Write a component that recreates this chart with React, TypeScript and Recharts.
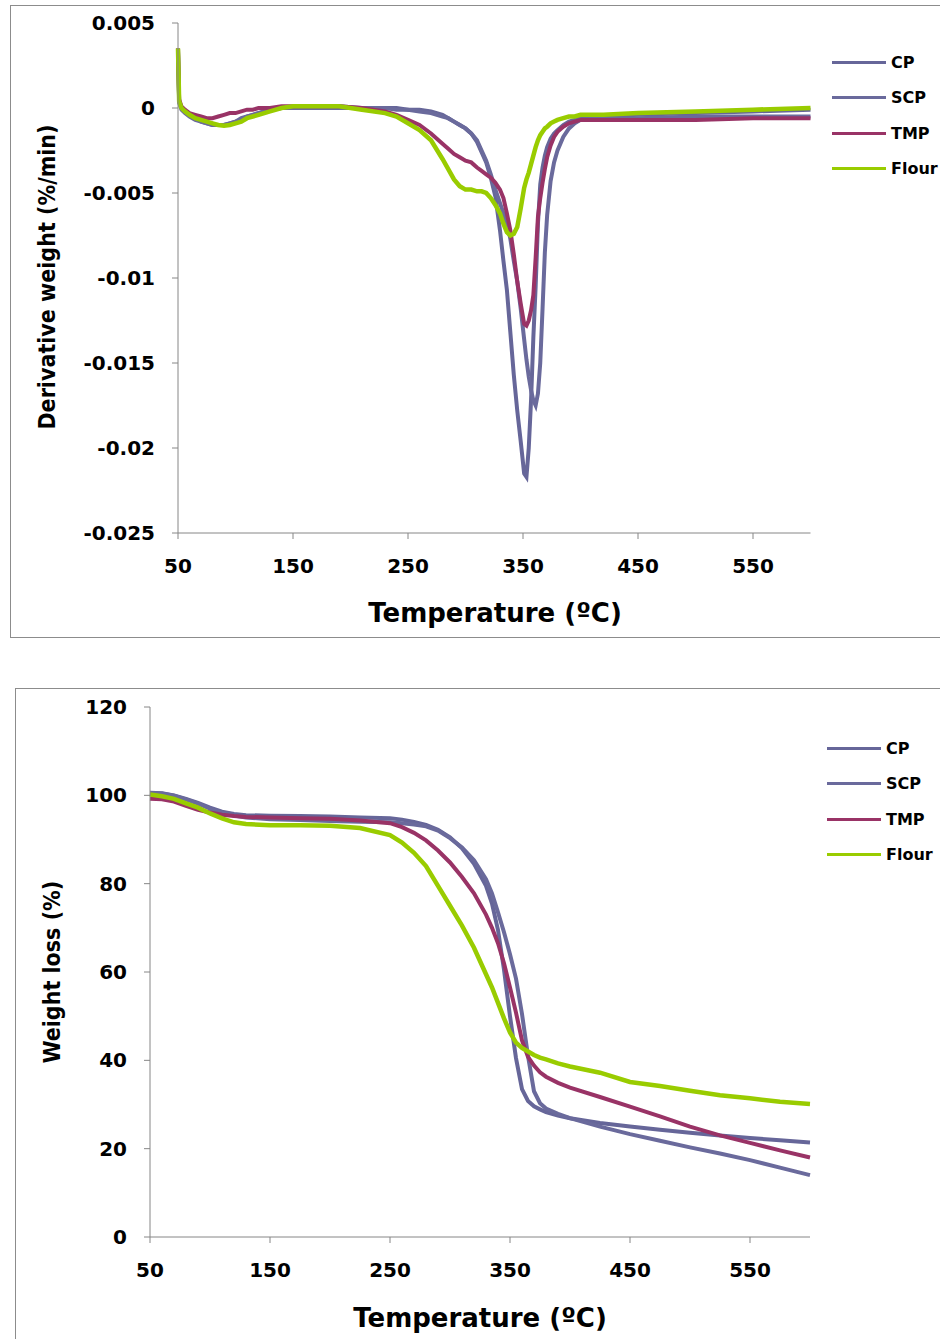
import React from 'react';
import { LineChart, Line, XAxis, YAxis, Legend } from 'recharts';

// derivative (DTG) curves
const DTG_TEMP = [
  50, 51, 53, 56, 60, 65, 70, 75, 80, 85, 90, 95, 100, 105, 110, 115, 120, 125, 130, 140,
  150, 170, 190, 210, 230, 240, 250, 260, 270, 280, 285, 290, 295, 300, 305, 310, 314, 318, 322, 326,
  330, 333, 336, 339, 342, 345, 348, 351, 353, 355, 357, 359, 361, 363, 365, 367, 369, 371, 374, 377,
  380, 385, 390, 395, 400, 420, 450, 500, 550, 600,
];
const DTG_CP = [
  0.0035, 0.0004, 0.0, -0.0002, -0.0004, -0.0006, -0.0008, -0.0009, -0.001, -0.001,
  -0.001, -0.0009, -0.0008, -0.0007, -0.0005, -0.0004, -0.0003, -0.0002, -0.0001, 0.0,
  0.0, 0.0001, 0.0001, 0.0, 0.0, 0.0, -0.0001, -0.0001, -0.0002, -0.0004,
  -0.0006, -0.0008, -0.001, -0.0012, -0.0015, -0.002, -0.0026, -0.0032, -0.0041, -0.0052,
  -0.0072, -0.009, -0.0107, -0.0132, -0.0157, -0.0178, -0.0196, -0.0215, -0.0217, -0.02,
  -0.0172, -0.0135, -0.0105, -0.0068, -0.0045, -0.0035, -0.0028, -0.0023, -0.0018, -0.0015,
  -0.0013, -0.001, -0.0008, -0.0007, -0.0006, -0.0005, -0.0004, -0.0003, -0.0002, -0.0001,
];
const DTG_SCP = [
  0.0033, 0.0003, -0.0001, -0.0003, -0.0005, -0.0007, -0.0008, -0.0009, -0.001, -0.001,
  -0.001, -0.0009, -0.0008, -0.0006, -0.0005, -0.0004, -0.0003, -0.0002, -0.0001, 0.0,
  0.0, 0.0, 0.0, 0.0, 0.0, -0.0001, -0.0001, -0.0002, -0.0003, -0.0005,
  -0.0006, -0.0008, -0.001, -0.0012, -0.0015, -0.0019, -0.0025, -0.0031, -0.0039, -0.0048,
  -0.0056, -0.0062, -0.0068, -0.0077, -0.009, -0.0102, -0.0118, -0.0136, -0.0148, -0.0158,
  -0.0166, -0.0172, -0.0175, -0.0168, -0.015, -0.0118, -0.0085, -0.0063, -0.0043, -0.0032,
  -0.0025, -0.0017, -0.0012, -0.0009, -0.0007, -0.0006, -0.0006, -0.0005, -0.0005, -0.0005,
];
const DTG_TMP = [
  0.0035, 0.0005, 0.0001, -0.0001, -0.0003, -0.0004, -0.0005, -0.0006, -0.0006, -0.0005,
  -0.0004, -0.0003, -0.0003, -0.0002, -0.0001, -0.0001, 0.0, 0.0, 0.0, 0.0001,
  0.0001, 0.0001, 0.0001, 0.0, -0.0002, -0.0004, -0.0007, -0.001, -0.0015, -0.0021,
  -0.0024, -0.0027, -0.0029, -0.0031, -0.0032, -0.0035, -0.0037, -0.0039, -0.0041, -0.0044,
  -0.0048, -0.0053, -0.0062, -0.0072, -0.0086, -0.0102, -0.0115, -0.0127, -0.0128, -0.0125,
  -0.0119, -0.011, -0.0088, -0.0064, -0.0053, -0.0044, -0.0036, -0.0029, -0.0022, -0.0017,
  -0.0014, -0.0011, -0.0009, -0.0008, -0.0007, -0.0007, -0.0007, -0.0007, -0.0006, -0.0006,
];
const DTG_FLOUR = [
  0.0035, 0.0004, 0.0, -0.0002, -0.0004, -0.0006, -0.0007, -0.0008, -0.0009, -0.001,
  -0.00105, -0.001, -0.0009, -0.0008, -0.0006, -0.0005, -0.0004, -0.0003, -0.0002, 0.0,
  0.0001, 0.0001, 0.0001, -0.0001, -0.0003, -0.0005, -0.0009, -0.0013, -0.0019, -0.003,
  -0.0036, -0.0042, -0.0046, -0.0048, -0.0048, -0.0049, -0.0049, -0.005, -0.0053, -0.0057,
  -0.0062, -0.0068, -0.0073, -0.0075, -0.0074, -0.007, -0.0059, -0.0047, -0.0042, -0.0038,
  -0.0033, -0.0028, -0.0023, -0.0019, -0.0016, -0.0014, -0.0012, -0.0011, -0.0009, -0.0008,
  -0.0007, -0.0006, -0.0005, -0.0005, -0.0004, -0.0004, -0.0003, -0.0002, -0.0001, 0.0,
];

// weight loss (TGA) curves
const TGA_TEMP = [
  50, 60, 70, 80, 90, 100, 110, 120, 130, 150, 175, 200, 225, 250, 260, 270, 280, 290, 300, 310,
  320, 330, 335, 340, 345, 350, 355, 360, 365, 370, 375, 380, 390, 400, 425, 450, 475, 500, 525, 550,
  575, 600,
];
const TGA_CP = [
  100.6, 100.5, 100.0, 99.2, 98.3, 97.2, 96.3, 95.8, 95.5, 95.4,
  95.3, 95.2, 95.0, 94.8, 94.5, 94.0, 93.3, 92.2, 90.5, 88.0,
  84.5, 79.5, 75.5, 69.5, 60.5, 50.0, 40.5, 33.5, 30.8, 29.6,
  28.9, 28.3, 27.5, 26.9, 25.8, 25.0, 24.3, 23.6, 23.0, 22.4,
  21.9, 21.4,
];
const TGA_SCP = [
  100.5, 100.4, 99.9, 99.1, 98.1, 97.0, 96.0, 95.4, 95.0, 94.6,
  94.4, 94.2, 94.0, 93.9, 93.7, 93.4, 93.0, 92.0, 90.3, 88.2,
  85.3, 81.0, 77.8, 73.5, 69.0, 64.0, 58.5, 50.5, 41.0, 33.0,
  30.3, 29.1, 27.9, 26.9, 25.0, 23.3, 21.8, 20.3, 18.9, 17.4,
  15.7, 14.0,
];
const TGA_TMP = [
  99.2, 99.1, 98.6, 97.6, 96.7, 96.1, 95.6, 95.3, 95.1, 95.0,
  94.8, 94.7, 94.3, 93.7, 92.8, 91.5, 89.8, 87.5, 84.8, 81.5,
  77.8, 73.0, 70.0, 66.5, 62.0, 56.5, 50.8, 44.5, 40.8, 38.8,
  37.3, 36.3, 34.9, 33.8, 31.7, 29.5, 27.3, 25.0, 23.0, 21.3,
  19.6, 18.0,
];
const TGA_FLOUR = [
  100.2, 99.8, 99.2, 98.2, 97.2, 95.9, 94.8, 93.9, 93.5, 93.2,
  93.2, 93.1, 92.6, 91.0, 89.3, 87.0, 84.0, 79.5, 75.0, 70.5,
  65.5, 59.5, 56.5, 53.0, 49.5, 46.3, 44.0, 42.8, 42.0, 41.2,
  40.6, 40.2, 39.3, 38.6, 37.2, 35.1, 34.2, 33.1, 32.1, 31.4,
  30.6, 30.1,
];

const X_TICKS = [50, 150, 250, 350, 450, 550];
const DTG_TICKS = [-0.025, -0.02, -0.015, -0.01, -0.005, 0, 0.005];
const TGA_TICKS = [0, 20, 40, 60, 80, 100, 120];

const SERIES = [
  { key: 'CP', color: '#666699' },
  { key: 'SCP', color: '#6a6a9c' },
  { key: 'TMP', color: '#993366' },
  { key: 'Flour', color: '#99cc00' },
];

const dtgData = DTG_TEMP.map((t, i) => ({
  t,
  CP: DTG_CP[i],
  SCP: DTG_SCP[i],
  TMP: DTG_TMP[i],
  Flour: DTG_FLOUR[i],
}));

const tgaData = TGA_TEMP.map((t, i) => ({
  t,
  CP: TGA_CP[i],
  SCP: TGA_SCP[i],
  TMP: TGA_TMP[i],
  Flour: TGA_FLOUR[i],
}));

const FONT = '"DejaVu Sans", Verdana, sans-serif';
const tickStyle = { fontFamily: FONT, fontSize: 20, fontWeight: 700, fill: '#000' };
const axisGray = '#868686';
const LEGEND_W = 120;

const LegendBox = () => (
  <div style={{ fontFamily: FONT, fontWeight: 700, fontSize: 16 }}>
    {SERIES.map((s) => (
      <div key={s.key} style={{ display: 'flex', alignItems: 'center', height: 35.3 }}>
        <div style={{ width: 54, height: 3, background: s.color, marginRight: 5 }} />
        <span>{s.key}</span>
      </div>
    ))}
  </div>
);

const lines = () =>
  SERIES.map((s) => (
    <Line
      key={s.key}
      type="linear"
      dataKey={s.key}
      stroke={s.color}
      strokeWidth={s.key === 'Flour' ? 4.5 : 4}
      dot={false}
      isAnimationActive={false}
    />
  ));

const titleStyle: React.CSSProperties = {
  position: 'absolute',
  fontFamily: FONT,
  fontWeight: 700,
  whiteSpace: 'nowrap',
  color: '#000',
};

const yTitleStyle: React.CSSProperties = {
  ...titleStyle,
  fontFamily: '"DejaVu Sans Condensed", "DejaVu Sans", sans-serif',
  fontSize: 23,
};

export default function App() {
  return (
    <div style={{ position: 'absolute', left: 0, top: 0, width: 940, height: 1339, overflow: 'hidden', background: '#fff' }}>
      {/* frames */}
      <div style={{ position: 'absolute', left: 10, top: 5, width: 1000, height: 631, border: '1px solid #8c8c8c' }} />
      <div style={{ position: 'absolute', left: 15, top: 688, width: 1000, height: 700, border: '1px solid #8c8c8c' }} />

      <div style={{ position: 'absolute', left: 0, top: 0 }}>
        <LineChart
          width={940}
          height={640}
          data={dtgData}
          margin={{ top: 23, right: 129.5 - LEGEND_W, bottom: 77, left: 118 }}
        >
          <XAxis
            dataKey="t"
            type="number"
            domain={[50, 600]}
            ticks={X_TICKS}
            stroke={axisGray}
            tick={tickStyle}
            tickSize={6}
            tickMargin={20}
            height={30}
          />
          <YAxis
            type="number"
            domain={[-0.025, 0.005]}
            ticks={DTG_TICKS}
            stroke={axisGray}
            tick={tickStyle}
            tickSize={6}
            tickMargin={17}
            width={60}
            allowDataOverflow
          />
          <Legend
            layout="vertical"
            align="right"
            verticalAlign="top"
            content={<LegendBox />}
            wrapperStyle={{ left: 832, top: 45, width: LEGEND_W }}
          />
          {lines()}
        </LineChart>
      </div>

      <div style={{ position: 'absolute', left: 0, top: 680 }}>
        <LineChart
          width={940}
          height={659}
          data={tgaData}
          margin={{ top: 27, right: 130 - LEGEND_W, bottom: 72, left: 90 }}
        >
          <XAxis
            dataKey="t"
            type="number"
            domain={[50, 600]}
            ticks={X_TICKS}
            stroke={axisGray}
            tick={tickStyle}
            tickSize={6}
            tickMargin={20}
            height={30}
          />
          <YAxis
            type="number"
            domain={[0, 120]}
            ticks={TGA_TICKS}
            stroke={axisGray}
            tick={tickStyle}
            tickSize={6}
            tickMargin={17}
            width={60}
          />
          <Legend
            layout="vertical"
            align="right"
            verticalAlign="top"
            content={<LegendBox />}
            wrapperStyle={{ left: 827, top: 51, width: LEGEND_W }}
          />
          {lines()}
        </LineChart>
      </div>

      {/* axis titles */}
      <div style={{ ...titleStyle, fontSize: 26, left: 495, top: 613, transform: 'translate(-50%, -50%)' }}>
        Temperature (ºC)
      </div>
      <div style={{ ...titleStyle, fontSize: 26, left: 480, top: 1318, transform: 'translate(-50%, -50%)' }}>
        Temperature (ºC)
      </div>
      <div style={{ ...yTitleStyle, left: 47, top: 277, transform: 'translate(-50%, -50%) rotate(-90deg)' }}>
        Derivative weight (%/min)
      </div>
      <div style={{ ...yTitleStyle, left: 52, top: 972, transform: 'translate(-50%, -50%) rotate(-90deg)' }}>
        Weight loss (%)
      </div>
    </div>
  );
}
